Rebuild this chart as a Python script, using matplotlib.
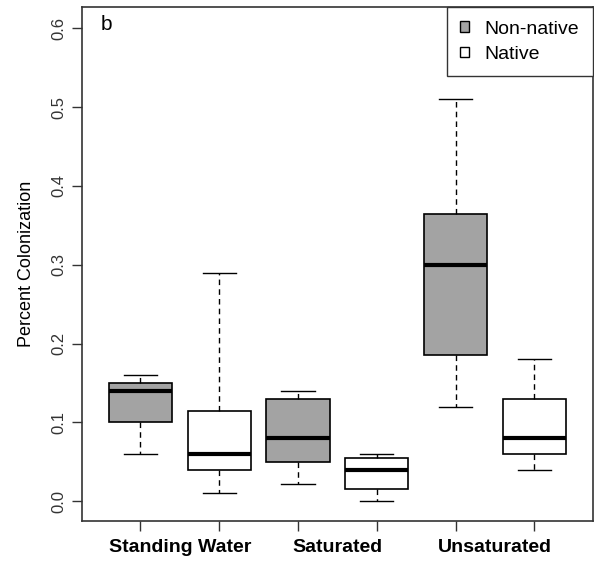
import matplotlib
matplotlib.use("Agg")
import matplotlib.pyplot as plt
from matplotlib.patches import Patch

plt.rcParams["font.family"] = ["Liberation Sans", "DejaVu Sans"]

# Valeurs (moustache basse, Q1, médiane, Q3, moustache haute)
groupes = ["Standing Water", "Saturated", "Unsaturated"]
non_native = [
    [0.06, 0.10, 0.14, 0.15, 0.16],
    [0.022, 0.05, 0.08, 0.13, 0.14],
    [0.12, 0.185, 0.30, 0.365, 0.51],
]
native = [
    [0.01, 0.04, 0.06, 0.115, 0.29],
    [0.0, 0.015, 0.04, 0.055, 0.06],
    [0.04, 0.06, 0.08, 0.13, 0.18],
]
gris = "#a3a3a3"

stats = []
couleurs = []
for nn, na in zip(non_native, native):
    for vals, c in [(nn, gris), (na, "white")]:
        lo, q1, med, q3, hi = vals
        stats.append(dict(whislo=lo, q1=q1, med=med, q3=q3, whishi=hi, fliers=[]))
        couleurs.append(c)

fig = plt.figure(figsize=(5.94, 5.62), dpi=100)
ax = fig.add_axes([0.138, 0.073, 0.860, 0.9145])

positions = list(range(1, len(stats) + 1))
bp = ax.bxp(stats, positions=positions, widths=0.8, patch_artist=True,
            showfliers=False,
            boxprops=dict(edgecolor="black", linewidth=1.2),
            medianprops=dict(color="black", linewidth=3),
            whiskerprops=dict(color="black", linewidth=1, linestyle=(0, (4, 3))),
            capprops=dict(color="black", linewidth=1),
            capwidths=0.42)
for patch, c in zip(bp["boxes"], couleurs):
    patch.set_facecolor(c)

ax.set_xlim(0.26, 6.74)
ax.set_ylim(-0.025, 0.627)
ax.set_xticks(positions)
ax.set_xticklabels([""] * len(positions))
for i, g in enumerate(groupes):
    ax.annotate(g, xy=(2 * i + 1.5, 0), xycoords=("data", "axes fraction"),
                xytext=(0, -13), textcoords="offset points",
                ha="center", va="top", fontsize=14, fontweight="bold",
                annotation_clip=False)

ax.set_yticks([0.0, 0.1, 0.2, 0.3, 0.4, 0.5, 0.6])
ax.set_yticklabels(["0.0", "0.1", "0.2", "0.3", "0.4", "0.5", "0.6"],
                   rotation=90, va="center", fontsize=12, color="#333333")
ax.tick_params(axis="both", direction="out", length=7, width=1, color="#333333")
ax.tick_params(axis="y", pad=4)
for s in ax.spines.values():
    s.set_color("#333333")
    s.set_linewidth(1.2)

ax.set_ylabel("Percent Colonization", fontsize=13, labelpad=12)
ax.text(0.037, 0.985, "b", transform=ax.transAxes, fontsize=15, va="top")

handles = [Patch(facecolor=gris, edgecolor="black", label="Non-native"),
           Patch(facecolor="white", edgecolor="black", label="Native")]
leg = ax.legend(handles=handles, loc="upper right", borderaxespad=0,
                fancybox=False, edgecolor="#333333", fontsize=14,
                handlelength=0.45, handleheight=0.45, handletextpad=0.8,
                borderpad=0.7, labelspacing=0.42, framealpha=1)
leg.get_frame().set_linewidth(1)

fig.savefig("out.png", dpi=100)
